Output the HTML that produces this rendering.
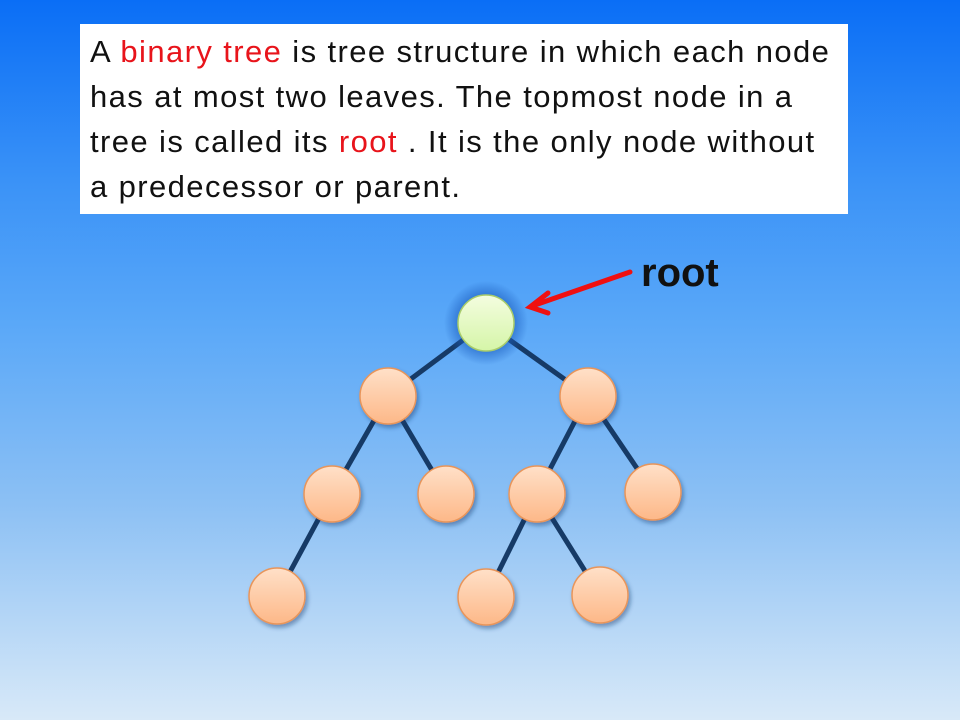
<!DOCTYPE html>
<html><head><style>
body{margin:0;width:960px;height:720px;overflow:hidden;background:linear-gradient(#0a6ef6 0%,#3a92f7 25%,#5aa8f8 45%,#8cc0f4 70%,#d8e9f8 100%);font-family:"Liberation Sans",sans-serif;position:relative}
.box{position:absolute;left:80px;top:24px;width:768px;height:190px;background:#fff}
.txt{position:absolute;left:90px;top:29px;font-size:31px;letter-spacing:1.4px;line-height:45px;color:#111;white-space:nowrap}
.r{color:#e8141b}
.root{position:absolute;left:641px;top:251px;font-size:40px;font-weight:bold;color:#111}
</style></head><body>
<div class="box"></div>
<div class="txt">A <span class="r">binary tree</span> is tree structure in which each node<br>has at most two leaves. The topmost node in a<br>tree is called its <span class="r">root</span> . It is the only node without<br>a predecessor or parent.</div>
<div class="root">root</div>
<svg width="960" height="720" style="position:absolute;left:0;top:0">
<defs>
<radialGradient id="glow"><stop offset="0.6" stop-color="#1d5fc0" stop-opacity="0.7"/><stop offset="1" stop-color="#1d5fc0" stop-opacity="0"/></radialGradient>
<linearGradient id="g" x1="0" y1="0" x2="0" y2="1"><stop offset="0" stop-color="#f4fde0"/><stop offset="1" stop-color="#d5f5a8"/></linearGradient>
<linearGradient id="o" x1="0" y1="0" x2="0" y2="1"><stop offset="0" stop-color="#ffe0c8"/><stop offset="1" stop-color="#fdb888"/></linearGradient>
<filter id="sh" x="-30%" y="-30%" width="160%" height="160%"><feDropShadow dx="2" dy="3" stdDeviation="2" flood-color="#1a3a70" flood-opacity="0.45"/></filter>
</defs>
<g stroke="#163a66" stroke-width="5">
<line x1="486" y1="323" x2="388" y2="396"/><line x1="486" y1="323" x2="588" y2="396"/>
<line x1="388" y1="396" x2="332" y2="494"/><line x1="388" y1="396" x2="446" y2="494"/>
<line x1="588" y1="396" x2="537" y2="494"/><line x1="588" y1="396" x2="653" y2="492"/>
<line x1="332" y1="494" x2="277" y2="596"/>
<line x1="537" y1="494" x2="486" y2="597"/><line x1="537" y1="494" x2="600" y2="595"/>
</g>
<circle cx="486" cy="323" r="42" fill="url(#glow)"/>
<circle cx="486" cy="323" r="28" fill="url(#g)" stroke="#a9cc6a" stroke-width="1.5"/>
<g fill="url(#o)" stroke="#e8955a" stroke-width="1.5" filter="url(#sh)">
<circle cx="388" cy="396" r="28"/><circle cx="588" cy="396" r="28"/>
<circle cx="332" cy="494" r="28"/><circle cx="446" cy="494" r="28"/>
<circle cx="537" cy="494" r="28"/><circle cx="653" cy="492" r="28"/>
<circle cx="277" cy="596" r="28"/><circle cx="486" cy="597" r="28"/><circle cx="600" cy="595" r="28"/>
</g>
<g stroke="#f01010" stroke-width="5" fill="none" stroke-linecap="round">
<line x1="630" y1="272" x2="532" y2="306"/>
<polyline points="548,293 530,307 548,313"/>
</g>
</svg>
</body></html>
